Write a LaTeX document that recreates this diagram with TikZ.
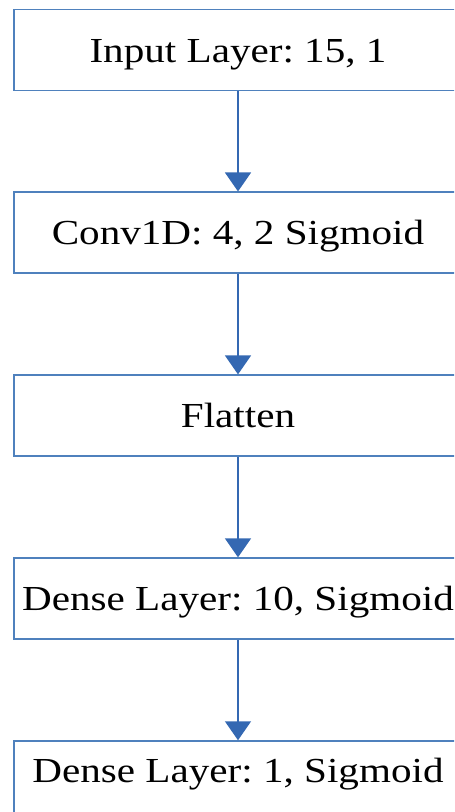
\documentclass[tikz,border=0pt]{standalone}
\usepackage{fontspec}
\setmainfont[FakeStretch=1.17]{Liberation Serif}
\usetikzlibrary{positioning,arrows.meta}
\definecolor{layerblue}{RGB}{79,129,189}
\definecolor{arrowblue}{RGB}{52,104,178}

\begin{document}
\begin{tikzpicture}[font=\fontsize{20}{24}\selectfont\frenchspacing,
  layer/.style={draw=layerblue, line width=1.1pt, minimum width=8.96cm,
    minimum height=1.62cm, inner sep=0pt, text height=0.48cm, text depth=0pt},
  flow/.style={draw=arrowblue, line width=0.85pt,
    -{Triangle[width=0.52cm,length=0.38cm,fill=arrowblue]}}]
  \clip (0,0) rectangle (9.08,-16.24); % page frame, right and bottom cut off

  % layers, top to bottom
  \node[layer] (input) at (4.76,-1.0) {Input Layer: 15, 1};
  \node[layer, below=2cm of input] (conv) {Conv1D: 4, 2 Sigmoid};
  \node[layer, below=2cm of conv] (flat) {Flatten};
  \node[layer, below=2cm of flat] (dense1) {Dense Layer: 10, Sigmoid};
  \node[layer, below=2cm of dense1, text depth=0.46cm] (dense2) {Dense Layer: 1, Sigmoid};

  % arrows between layers
  \foreach \a/\b in {input/conv, conv/flat, flat/dense1, dense1/dense2} {
    \draw[flow] (\a) -- (\b);
  }
\end{tikzpicture}
\end{document}
